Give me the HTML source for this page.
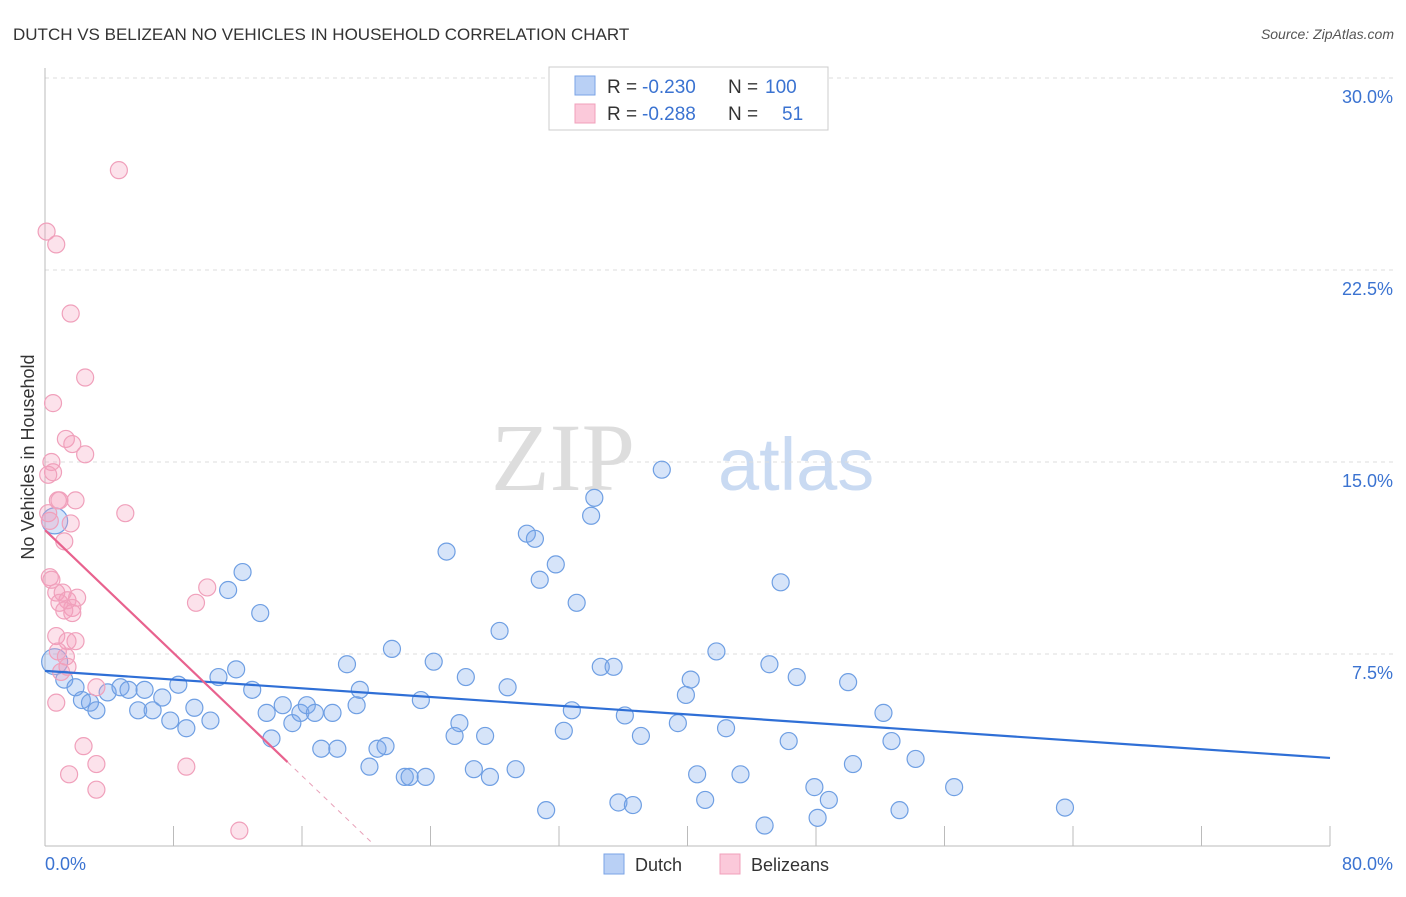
<!DOCTYPE html>
<html><head><meta charset="utf-8"><style>
body{margin:0;background:#fff;width:1406px;height:892px;overflow:hidden;font-family:"Liberation Sans",sans-serif}
</style></head><body>
<svg width="1406" height="892" xmlns="http://www.w3.org/2000/svg">
<text x="13" y="40" font-size="17" fill="#333">DUTCH VS BELIZEAN NO VEHICLES IN HOUSEHOLD CORRELATION CHART</text>
<text x="1394" y="39" font-size="14" fill="#555" font-style="italic" text-anchor="end">Source: ZipAtlas.com</text>
<text x="635" y="490" font-size="96" fill="#ddd" text-anchor="end" font-family="Liberation Serif">ZIP</text>
<text x="718" y="490" font-size="74" fill="#c9daf2">atlas</text>
<g id="grid"></g>
<g id="axes"></g>
<g id="pts"></g>
<g id="trends"></g>
<text transform="translate(34,457) rotate(-90)" font-size="18" fill="#333" text-anchor="middle">No Vehicles in Household</text>
<text x="45" y="870" font-size="18" fill="#3b73d1">0.0%</text>
<text x="1393" y="870" font-size="18" fill="#3b73d1" text-anchor="end">80.0%</text>
<g>
<rect x="549" y="67" width="279" height="63" fill="#fff" stroke="#ccc"/>
<rect x="575" y="76" width="20" height="19" fill="#b9d0f5" stroke="#7aa3e6"/>
<rect x="575" y="104" width="20" height="19" fill="#fbc9da" stroke="#f0a0bb"/>
<text x="607" y="93" font-size="19" fill="#333">R =</text>
<text x="642" y="93" font-size="19" fill="#3b73d1">-0.230</text>
<text x="728" y="93" font-size="19" fill="#333">N =</text>
<text x="765" y="93" font-size="19" fill="#3b73d1">100</text>
<text x="607" y="120" font-size="19" fill="#333">R =</text>
<text x="642" y="120" font-size="19" fill="#3b73d1">-0.288</text>
<text x="728" y="120" font-size="19" fill="#333">N =</text>
<text x="782" y="120" font-size="19" fill="#3b73d1">51</text>
</g>
<g>
<rect x="604" y="854" width="20" height="20" fill="#b9d0f5" stroke="#7aa3e6"/>
<text x="635" y="871" font-size="18" fill="#333">Dutch</text>
<rect x="720" y="854" width="20" height="20" fill="#fbc9da" stroke="#f0a0bb"/>
<text x="751" y="871" font-size="18" fill="#333">Belizeans</text>
</g>
</svg>
<script>
const yTicks=[7.5,15,22.5,30];
const yTickLabels=["7.5%","15.0%","22.5%","30.0%"];
const xTicks=[0,8,16,24,32,40,48,56,64,72,80];
const dutchX=[0.6,0.6,1.2,1.9,2.3,2.8,3.2,3.9,4.7,5.2,5.8,6.2,6.7,7.3,7.8,8.3,8.8,9.3,10.3,10.8,11.4,11.9,12.3,12.9,13.4,13.8,14.1,14.8,15.4,15.9,16.3,16.8,17.2,17.9,18.2,18.8,19.4,19.6,20.2,20.7,21.2,21.6,22.4,22.7,23.4,23.7,24.2,25.0,25.5,25.8,26.2,26.7,27.4,27.7,28.3,28.8,29.3,30.0,30.5,30.8,31.2,31.8,32.3,32.8,33.1,34.0,34.2,34.6,35.4,35.7,36.1,36.6,37.1,38.4,39.4,39.9,40.2,40.6,41.1,41.8,42.4,43.3,44.8,45.1,45.8,46.3,46.8,47.9,48.1,48.8,50.0,50.3,52.2,52.7,53.2,54.2,56.6,63.5];
const dutchY=[12.7,7.2,6.5,6.2,5.7,5.6,5.3,6.0,6.2,6.1,5.3,6.1,5.3,5.8,4.9,6.3,4.6,5.4,4.9,6.6,10.0,6.9,10.7,6.1,9.1,5.2,4.2,5.5,4.8,5.2,5.5,5.2,3.8,5.2,3.8,7.1,5.5,6.1,3.1,3.8,3.9,7.7,2.7,2.7,5.7,2.7,7.2,11.5,4.3,4.8,6.6,3.0,4.3,2.7,8.4,6.2,3.0,12.2,12.0,10.4,1.4,11.0,4.5,5.3,9.5,12.9,13.6,7.0,7.0,1.7,5.1,1.6,4.3,14.7,4.8,5.9,6.5,2.8,1.8,7.6,4.6,2.8,0.8,7.1,10.3,4.1,6.6,2.3,1.1,1.8,6.4,3.2,5.2,4.1,1.4,3.4,2.3,1.5];
const belX=[4.6,0.1,0.7,1.6,2.5,0.5,1.3,1.7,2.5,0.4,0.5,0.2,0.8,0.9,1.9,5.0,0.2,0.3,1.6,1.2,0.3,0.4,10.1,0.7,1.1,2.0,1.4,0.9,1.7,9.4,1.2,1.7,0.7,1.9,1.4,0.8,1.3,1.4,1.0,3.2,0.7,2.4,3.2,1.5,3.2,8.8,12.1];
const belY=[26.4,24.0,23.5,20.8,18.3,17.3,15.9,15.7,15.3,15.0,14.6,14.5,13.5,13.5,13.5,13.0,13.0,12.7,12.6,11.9,10.5,10.4,10.1,9.9,9.9,9.7,9.6,9.5,9.3,9.5,9.2,9.1,8.2,8.0,8.0,7.6,7.4,7.0,6.8,6.2,5.6,3.9,3.2,2.8,2.2,3.1,0.6];
const dutchTrend=[6.84,3.44];   // y at x=0, y at x=80
const belTrend=[12.34,-0.60,15.1,20.4]; // intercept, slope, solid end, dashed end
const X=v=>45+v/80*1285, Y=v=>846-v*25.6;
const NS="http://www.w3.org/2000/svg";
function mk(t,a,p){const e=document.createElementNS(NS,t);for(const k in a)e.setAttribute(k,a[k]);p.appendChild(e);return e;}
const grid=document.getElementById('grid'),axes=document.getElementById('axes'),pts=document.getElementById('pts'),tr=document.getElementById('trends');
yTicks.forEach((v,i)=>{
 const l=mk('line',{x1:45,x2:1395,y1:Y(v),y2:Y(v),stroke:'#ddd','stroke-dasharray':'4,4'},grid);
 
 
 const t=mk('text',{x:1393,y:Y(v)+25,'font-size':18,fill:'#3b73d1','text-anchor':'end'},grid);
 t.textContent=yTickLabels[i];
 
 
});
const ax=mk('line',{x1:45,x2:45,y1:68,y2:846,stroke:'#bbb'},axes);


const bx=mk('line',{x1:45,x2:1330,y1:846,y2:846,stroke:'#bbb'},axes);


xTicks.forEach(v=>{
 const t=mk('line',{x1:X(v),x2:X(v),y1:826,y2:846,stroke:'#bbb'},axes);
 
 
});
dutchX.forEach((x,i)=>{
 const r=i<2?13:8.5;
 const c=mk('circle',{cx:X(x),cy:Y(dutchY[i]),r:r,fill:'rgba(120,165,235,0.3)',stroke:'#6f9fe3','stroke-width':1.2},pts);
 
 
});
belX.forEach((x,i)=>{
 const c=mk('circle',{cx:X(x),cy:Y(belY[i]),r:8.5,fill:'rgba(245,160,190,0.3)',stroke:'#f0a0bb','stroke-width':1.2},pts);
 
 
});
const dl=mk('line',{x1:X(0),y1:Y(dutchTrend[0]),x2:X(80),y2:Y(dutchTrend[1]),stroke:'#2f6fd6','stroke-width':2.2},tr);


const bs=mk('line',{x1:X(0),y1:Y(belTrend[0]),x2:X(belTrend[2]),y2:Y(belTrend[0]+belTrend[1]*belTrend[2]),stroke:'#e8628e','stroke-width':2.2},tr);


const bd=mk('line',{x1:X(belTrend[2]),y1:Y(belTrend[0]+belTrend[1]*belTrend[2]),x2:X(belTrend[3]),y2:Y(belTrend[0]+belTrend[1]*belTrend[3]),stroke:'#e8a0b8','stroke-width':1,'stroke-dasharray':'5,5'},tr);


</script>
</body></html>
